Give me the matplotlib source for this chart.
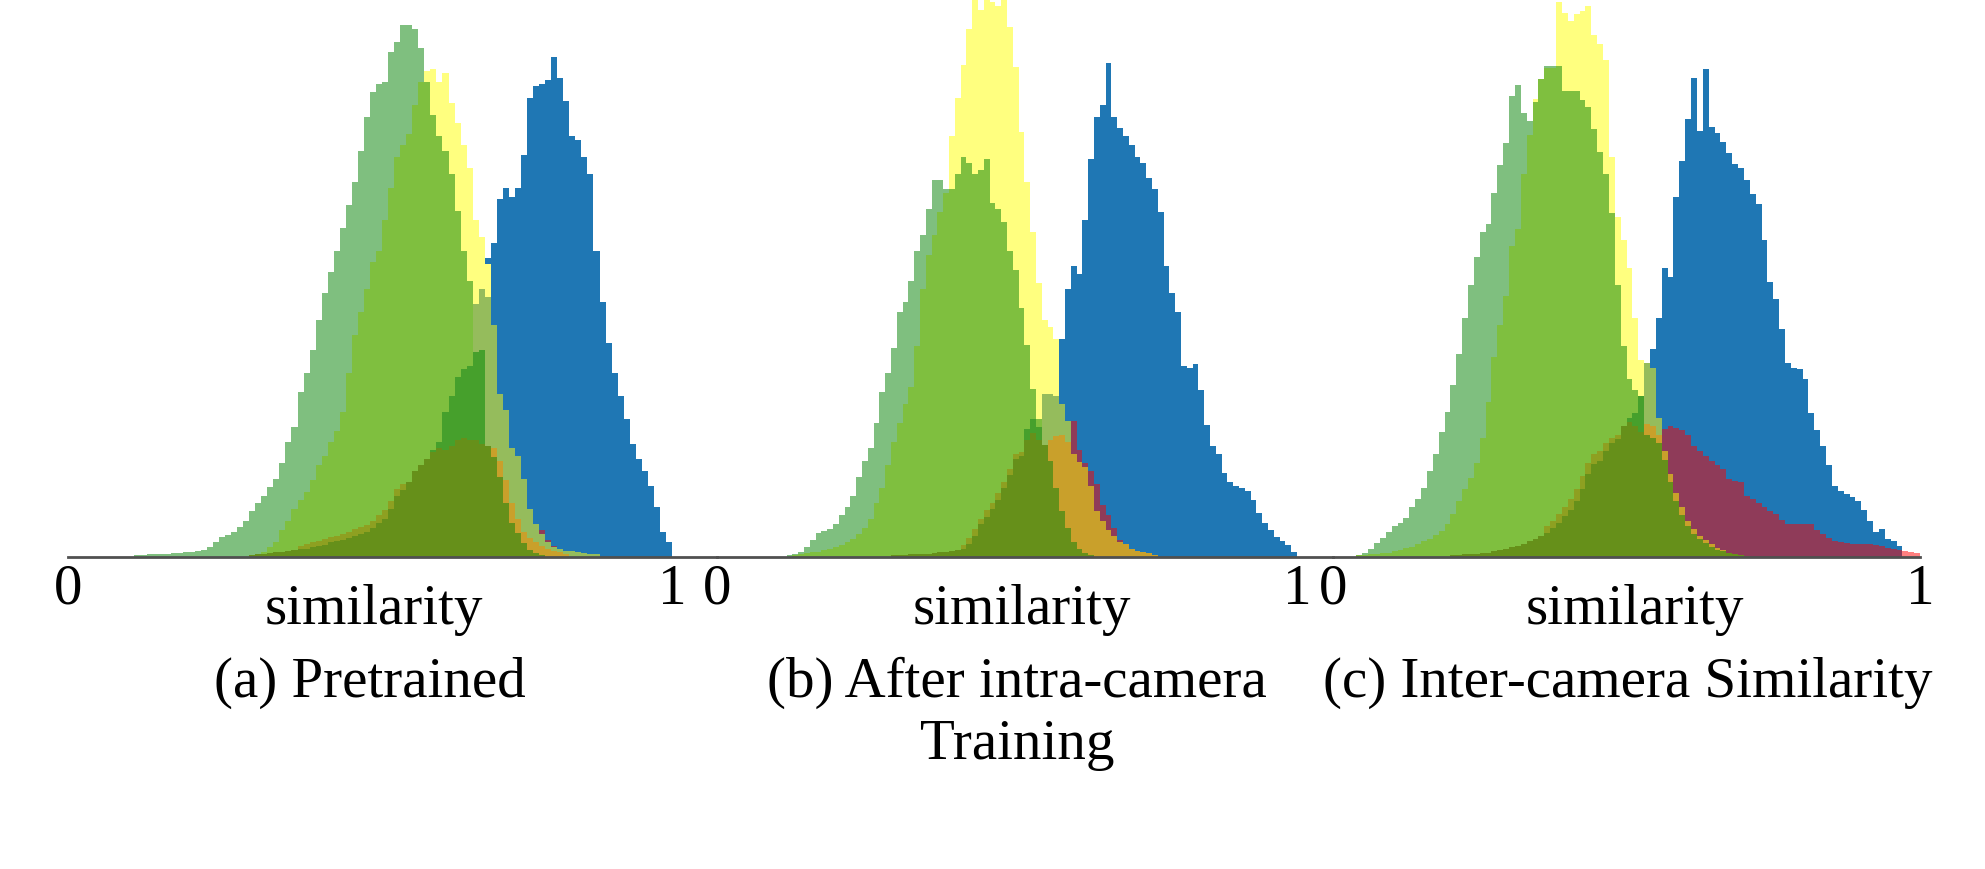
import numpy as np
import matplotlib.pyplot as plt

plt.rcParams['font.family'] = ['Liberation Serif', 'DejaVu Serif']

# similarity histograms, 0.01 wide bins; each series = (first bin, heights)
# (a) Pretrained
a_green_start = 0.11
a_green = [4, 6, 7, 7, 8, 9, 10, 11, 12, 14, 15, 17, 25, 38, 52, 58, 64, 78, 93,
           120, 140, 160, 182, 205, 245, 300, 340, 430, 480, 540, 620, 690, 745,
           800, 860, 920, 980, 1060, 1150, 1215, 1235, 1240, 1320, 1345, 1390,
           1390, 1380, 1330, 1240, 1155, 1100, 1060, 1000, 905, 800, 720, 600,
           500, 400, 300, 220, 160, 110, 80, 60, 45, 35, 25, 20, 15, 12, 10, 8,
           6, 5, 4, 3]
a_yellow_start = 0.30
a_yellow = [4, 6, 12, 25, 40, 70, 95, 125, 150, 170, 200, 240, 265, 300, 330, 380,
            480, 580, 640, 700, 770, 800, 880, 965, 1045, 1075, 1105, 1180, 1240,
            1270, 1275, 1240, 1265, 1185, 1135, 1075, 1015, 880, 835, 765, 560,
            400, 340, 260, 230, 200, 120, 85, 60, 40, 25, 20, 15, 15, 12, 10, 8, 7]
a_blue_start = 0.58
a_blue = [80, 120, 170, 230, 300, 380, 460, 540, 600, 660, 720, 780, 820, 935, 965,
          940, 965, 1050, 1200, 1230, 1235, 1245, 1305, 1250, 1190, 1100, 1090,
          1045, 1000, 800, 665, 560, 480, 420, 360, 295, 255, 225, 185, 130, 65, 40]
a_red_start = 0.76
a_red = [60, 65, 70, 45, 30, 15, 8, 4]
a_lolive_start = 0.67
a_lolive = [660, 700, 680, 605, 425, 385, 285, 265, 205, 125, 85, 60, 40, 25, 20,
            15, 15, 12, 10, 8, 7]
a_bgreen_start = 0.60
a_bgreen = [280, 300, 380, 420, 470, 490, 500, 535, 540]
a_orange_start = 0.69
a_orange = [290, 285, 250, 200, 140, 100, 65, 50, 40, 30, 20, 15, 12, 8]
a_olive_start = 0.38
a_olive = [30, 34, 38, 42, 46, 52, 56, 60, 66, 72, 78, 84, 95, 110, 122, 145, 178,
           190]
a_dolive_start = 0.30
a_dolive = [5, 7, 8, 10, 12, 13, 15, 17, 20, 22, 25, 28, 32, 38, 42, 45, 50, 55, 60,
            65, 75, 90, 100, 125, 160, 175, 195, 225, 240, 255, 275, 285, 280, 290,
            305, 310, 305, 305, 295, 290, 261, 209, 141, 88, 62, 36, 18, 10, 5]

# (b) After intra-camera Training
b_green_start = 0.12
b_green = [4, 8, 12, 25, 45, 62, 68, 72, 85, 110, 130, 160, 210, 250, 285, 350,
           430, 480, 545, 640, 665, 720, 800, 840, 910, 985, 985, 960, 960, 1000,
           1045, 1030, 1000, 1010, 1040, 925, 910, 875, 800, 750, 650, 555, 440,
           360, 290, 230, 180, 140, 105, 80, 60, 45, 35, 25, 18, 12, 8, 5, 3]
b_yellow_start = 0.13
b_yellow = [5, 8, 10, 12, 14, 18, 22, 27, 32, 40, 48, 60, 75, 100, 140, 180, 240,
            300, 350, 400, 445, 550, 700, 790, 840, 900, 950, 1100, 1200, 1285,
            1380, 1500, 1430, 1460, 1450, 1440, 1460, 1385, 1280, 1110, 980, 850,
            715, 620, 600, 570, 300, 220, 160, 115, 80, 55, 38, 25, 16, 10, 6, 3]
b_blue_start = 0.55
b_blue = [200, 300, 420, 520, 570, 700, 760, 740, 880, 1040, 1150, 1180, 1290,
          1150, 1120, 1100, 1075, 1045, 1030, 990, 960, 900, 760, 690, 640, 500,
          495, 505, 435, 345, 290, 270, 220, 195, 185, 180, 172, 150, 115, 90, 70,
          52, 42, 32, 12]
b_red_start = 0.60
b_red = [330, 355, 280, 245, 225, 190, 135, 110, 75, 45, 30, 20, 12, 8, 5]
b_lolive_start = 0.56
b_lolive = [425, 425, 420, 400, 355]
b_bgreen_start = 0.53
b_bgreen = [335, 360, 340]
b_orange_start = 0.56
b_orange = [292, 305, 315, 318, 300, 270, 247, 235, 185, 120, 95, 70, 55, 40, 33,
            22, 15, 12, 10, 6]
b_olive_start = 0.42
b_olive = [32, 50, 72, 100, 122, 142, 168, 196, 230, 268, 275]
b_dolive_start = 0.30
b_dolive = [5, 5, 6, 7, 7, 8, 9, 10, 12, 13, 15, 18, 20, 35, 55, 85, 105, 125, 150,
            180, 215, 255, 265, 305, 325, 305, 292, 250, 180, 120, 75, 40, 20, 10, 5]

# (c) Inter-camera Similarity
c_green_start = 0.04
c_green = [3, 8, 15, 25, 35, 45, 55, 62, 70, 90, 105, 125, 155, 185, 225, 262, 310,
           365, 430, 490, 540, 585, 600, 655, 705, 745, 830, 850, 800, 785, 820,
           860, 885, 885, 885, 840, 840, 840, 823, 810, 770, 730, 690, 620, 490,
           380, 320, 300, 280, 230, 180, 140, 105, 80, 60, 45, 35, 27, 20, 15, 11,
           8, 5, 3]
c_yellow_start = 0.04
c_yellow = [3, 4, 5, 6, 7, 8, 10, 13, 16, 18, 23, 28, 33, 40, 47, 60, 78, 100, 122,
            143, 170, 215, 280, 360, 418, 470, 560, 590, 690, 760, 825, 860, 880,
            880, 1000, 980, 965, 978, 983, 993, 940, 923, 895, 720, 613, 570, 520,
            430, 355, 300, 230, 170, 125, 90, 65, 45, 30, 20, 14, 9, 5, 3]
c_blue_start = 0.50
c_blue = [150, 220, 290, 340, 375, 430, 520, 505, 648, 713, 788, 863, 768, 878, 775,
          763, 748, 728, 708, 700, 678, 653, 635, 570, 495, 465, 410, 350, 340, 338,
          320, 260, 228, 200, 165, 128, 118, 113, 108, 100, 85, 65, 45, 50, 32, 28,
          20]
c_red_start = 0.55
c_red = [227, 230, 236, 232, 228, 220, 200, 190, 182, 173, 165, 158, 140, 137, 135,
         110, 104, 98, 90, 83, 77, 66, 60, 59, 59, 59, 59, 48, 41, 35, 29, 27, 25,
         23, 23, 23, 23, 21, 20, 17, 14, 12, 10, 9, 7]
c_lolive_start = 0.53
c_lolive = [350, 340, 250]
c_bgreen_start = 0.50
c_bgreen = [250, 260, 290]
c_orange_start = 0.53
c_orange = [240, 235, 220, 190, 150, 115, 90, 65, 50, 38, 30, 24, 16, 12]
c_olive_start = 0.36
c_olive = [55, 65, 78, 90, 105, 122, 145, 170, 185, 190, 205, 215, 220]
c_dolive_start = 0.20
c_dolive = [3, 4, 5, 5, 6, 7, 8, 10, 12, 15, 18, 20, 24, 28, 32, 37, 43, 52, 62,
            73, 85, 100, 123, 150, 168, 172, 190, 205, 213, 235, 243, 235, 225,
            220, 215, 205, 175, 135, 100, 75, 55, 42, 32, 25, 18, 13, 10, 8, 6, 4, 2]

x_labels = ['similarity', 'similarity', 'similarity']
titles = [['(a) Pretrained'], ['(b) After intra-camera', 'Training'],
          ['(c) Inter-camera Similarity']]

edges = np.round(np.linspace(0, 1, 101), 2)


def full(start, vals):
    arr = np.zeros(100)
    i = int(round(start * 100))
    arr[i:i + len(vals)] = vals
    return arr


def draw(ax, g, y, b, r, lo, bg, org, olv, do):
    g, y, b, r = full(*g), full(*y), full(*b), full(*r)
    lo, bg, org = full(*lo), full(*bg), full(*org)
    olv, do = full(*olv), full(*do)
    ax.stairs(b, edges, fill=True, color='#1f77b4', lw=0)
    ax.stairs(r, edges, fill=True, color='red', alpha=0.5, lw=0)
    # the green/yellow group sits in front of the blue one
    env = np.maximum.reduce([g, y, lo, bg, org, olv, do])
    ax.stairs(env, edges, fill=True, color='white', lw=0)
    ax.stairs(y, edges, fill=True, color='yellow', alpha=0.5, lw=0)
    ax.stairs(g, edges, fill=True, color='green', alpha=0.5, lw=0)
    ax.stairs(lo, edges, fill=True, color='#95bc5c', lw=0)
    ax.stairs(bg, edges, fill=True, color='#46a02c', lw=0)
    ax.stairs(org, edges, fill=True, color='#c9a02b', lw=0)
    ax.stairs(olv, edges, fill=True, color='#8ea021', lw=0)
    ax.stairs(do, edges, fill=True, color='#66901a', lw=0)


W, H = 1985, 869
fig = plt.figure(figsize=(W / 100, H / 100), dpi=100)

base = 557
panels = [
    (68, 717, 604, 1455,
     (a_green_start, a_green), (a_yellow_start, a_yellow), (a_blue_start, a_blue),
     (a_red_start, a_red), (a_lolive_start, a_lolive), (a_bgreen_start, a_bgreen),
     (a_orange_start, a_orange), (a_olive_start, a_olive),
     (a_dolive_start, a_dolive)),
    (717, 1333, 580, 1455,
     (b_green_start, b_green), (b_yellow_start, b_yellow), (b_blue_start, b_blue),
     (b_red_start, b_red), (b_lolive_start, b_lolive), (b_bgreen_start, b_bgreen),
     (b_orange_start, b_orange), (b_olive_start, b_olive),
     (b_dolive_start, b_dolive)),
    (1333, 1920, 587, 1003,
     (c_green_start, c_green), (c_yellow_start, c_yellow), (c_blue_start, c_blue),
     (c_red_start, c_red), (c_lolive_start, c_lolive), (c_bgreen_start, c_bgreen),
     (c_orange_start, c_orange), (c_olive_start, c_olive),
     (c_dolive_start, c_dolive)),
]

for left, right, unit, ytop, *series in panels:
    ax = fig.add_axes([left / W, (H - base) / H, (right - left) / W, base / H])
    draw(ax, *series)
    ax.set_xlim(0, (right - left) / unit)
    ax.set_ylim(0, ytop)
    for s in ['top', 'left', 'right']:
        ax.spines[s].set_visible(False)
    ax.spines['bottom'].set_color('#505050')
    ax.spines['bottom'].set_linewidth(2)
    ax.set_yticks([])
    ax.set_xticks([0, 1])
    ax.set_xticklabels(['0', '1'])
    ax.tick_params(axis='x', length=0, labelsize=41, pad=5)
    ax.patch.set_alpha(0)

label_x = [374, 1022, 1635]
title_x = [370, 1017, 1628]
for i in range(3):
    fig.text(label_x[i] / W, 1 - 624 / H, x_labels[i], ha='center', va='baseline',
             fontsize=41)
    for j, line in enumerate(titles[i]):
        fig.text(title_x[i] / W, 1 - (697 + 62 * j) / H, line, ha='center',
                 va='baseline', fontsize=41)

fig.savefig('out.png', dpi=100, facecolor='white')
